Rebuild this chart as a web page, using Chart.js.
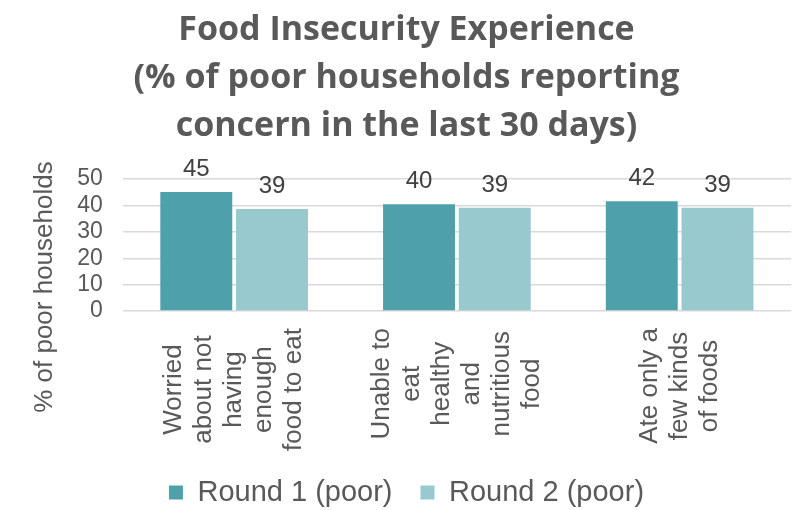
<!DOCTYPE html>
<html>
<head>
<meta charset="utf-8">
<script src="https://cdn.jsdelivr.net/npm/chart.js@4"></script>
<style>
  html, body { margin:0; padding:0; background:#fff; }
  #wrap { width:808px; height:510px; }
</style>
</head>
<body>
<div id="wrap"><canvas id="chart"></canvas></div>
<script>
// data
const categories = [
  ['Worried', 'about not', 'having', 'enough', 'food to eat'],
  ['Unable to', 'eat', 'healthy', 'and', 'nutritious', 'food'],
  ['Ate only a', 'few kinds', 'of foods']
];
const round1 = [45.1, 40.4, 41.6];
const round2 = [38.6, 39.1, 39.1];
const seriesNames = ['Round 1 (poor)', 'Round 2 (poor)'];
const yTicks = [0, 10, 20, 30, 40, 50];
const yTitle = '% of poor households';

const GREY = '#595959';
const ARIAL = '"Liberation Sans", Arial, sans-serif';

// value labels above each bar
const valueLabels = {
  id: 'valueLabels',
  afterDatasetsDraw(chart){
    const ctx = chart.ctx;
    ctx.save();
    ctx.font = '24px ' + ARIAL;
    ctx.fillStyle = '#404040';
    ctx.textAlign = 'center';
    ctx.textBaseline = 'alphabetic';
    chart.data.datasets.forEach((ds, di) => {
      chart.getDatasetMeta(di).data.forEach((bar, i) => {
        ctx.fillText(Math.round(ds.data[i]), bar.x, bar.y - 16);
      });
    });
    ctx.restore();
  }
};

// rotated category labels with lines centred on each other (chart.js right-aligns them),
// plus the y title sitting a bit lower than chart.js would centre it
const axisText = {
  id: 'axisText',
  afterDraw(chart){
    const x = chart.scales.x, y = chart.scales.y, ctx = chart.ctx;
    const lh = 30;
    ctx.save();
    ctx.font = '26px ' + ARIAL;
    ctx.fillStyle = GREY;
    ctx.textAlign = 'center';
    ctx.textBaseline = 'middle';
    categories.forEach((lines, i) => {
      const px = x.getPixelForTick(i);
      const maxW = Math.max(...lines.map(l => ctx.measureText(l).width));
      const cy = x.top + 17 + maxW / 2;
      lines.forEach((l, j) => {
        ctx.save();
        ctx.translate(px + (j - (lines.length - 1) / 2) * lh, cy);
        ctx.rotate(-Math.PI / 2);
        ctx.fillText(l, 0, 0);
        ctx.restore();
      });
    });
    ctx.save();
    ctx.translate(y.left + 23, (y.top + y.bottom) / 2 + 42);
    ctx.rotate(-Math.PI / 2);
    ctx.fillText(yTitle, 0, 0);
    ctx.restore();
    ctx.restore();
  }
};

new Chart(document.getElementById('chart'), {
  type: 'bar',
  data: {
    labels: categories,
    datasets: [
      { label: seriesNames[0], data: round1, backgroundColor: '#4ea1ab' },
      { label: seriesNames[1], data: round2, backgroundColor: '#97c9cf' }
    ]
  },
  options: {
    responsive: true,
    maintainAspectRatio: false,
    animation: false,
    layout: { padding: { left: 22, right: 17, top: 0, bottom: 0 } },
    datasets: { bar: { categoryPercentage: 0.68, barPercentage: 0.95 } },
    plugins: {
      title: {
        display: true,
        text: ['Food Insecurity Experience', '(% of poor households reporting', 'concern in the last 30 days)'],
        color: GREY,
        font: { family: '"Open Sans", sans-serif', size: 34, weight: 'bold', lineHeight: 48 / 34 },
        padding: { top: 6, bottom: 29 }
      },
      legend: {
        position: 'bottom',
        maxHeight: 60,
        labels: {
          boxWidth: 14, boxHeight: 14, padding: 28,
          color: GREY,
          font: { family: ARIAL, size: 29 }
        }
      },
      tooltip: { enabled: false }
    },
    scales: {
      x: {
        grid: { display: false, drawTicks: false },
        border: { display: false },
        ticks: {
          color: 'transparent',
          font: { family: ARIAL, size: 26, lineHeight: 30 / 26 },
          minRotation: 90, maxRotation: 90,
          padding: 8
        }
      },
      y: {
        min: 0, max: 50,
        afterBuildTicks: s => { s.ticks = yTicks.map(v => ({ value: v })); },
        grid: { color: '#d9d9d9', lineWidth: 1.5, drawTicks: false },
        border: { display: false },
        ticks: { color: GREY, font: { family: ARIAL, size: 23 }, padding: 20, autoSkip: false },
        title: {
          display: true,
          text: yTitle,
          color: 'transparent',
          font: { family: ARIAL, size: 26 },
          padding: { top: 0, bottom: 4 }
        }
      }
    }
  },
  plugins: [valueLabels, axisText]
});
</script>
</body>
</html>
